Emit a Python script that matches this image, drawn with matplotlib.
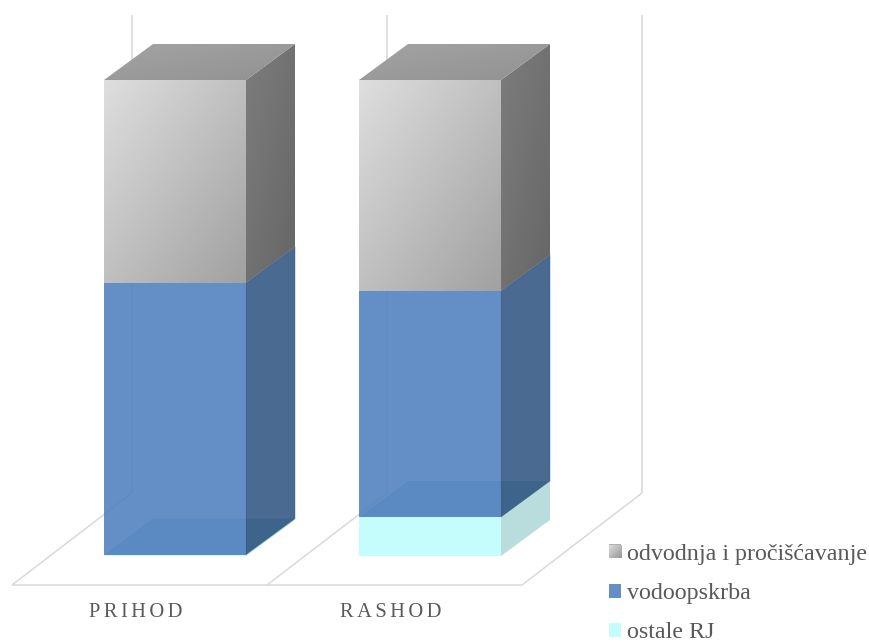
import numpy as np
import matplotlib
matplotlib.use("Agg")
import matplotlib.pyplot as plt
from matplotlib.patches import Polygon, Patch

# ---- data (percent shares) ----
categories = ["PRIHOD", "RASHOD"]
ostale_rj = [0.3, 8.2]
vodoopskrba = [57.1, 47.5]
odvodnja = [42.6, 44.3]
series_labels = ["ostale RJ", "vodoopskrba", "odvodnja i pročišćavanje"]

# ---- layout, in pixels of the 869x644 figure ----
W, H = 869, 644
AX_L, AX_R, AX_T, AX_B = 12, 642, 15, 585
CAT0_PX, CAT_STEP_PX = 139.5, 255.0
BASE_PX, PCT_PX = 556.0, 4.76
BAR_DX, BAR_DY = 49 / CAT_STEP_PX, 36 / PCT_PX          # bar depth
BAR_OFF = 35.5 / CAT_STEP_PX                            # bar centre from category
BAR_HW = 71 / CAT_STEP_PX                               # half width
FLOOR_DX, FLOOR_DY = 120 / CAT_STEP_PX, 92 / PCT_PX     # floor depth
FLOOR_Y = (BASE_PX - AX_B) / PCT_PX
TOP_Y = (BASE_PX - AX_T) / PCT_PX
GRID = "#D9D9D9"
TXT = "#595959"
SERIF = "Liberation Serif"

fig = plt.figure(figsize=(W / 100, H / 100), dpi=100, facecolor="white")
ax = fig.add_axes([AX_L / W, 1 - AX_B / H, (AX_R - AX_L) / W, (AX_B - AX_T) / H])
xlim = ((AX_L - CAT0_PX) / CAT_STEP_PX, (AX_R - CAT0_PX) / CAT_STEP_PX)
ylim = (FLOOR_Y, TOP_Y)
for s in ax.spines.values():
    s.set_visible(False)
ax.set_yticks([])
ax.set_xticks(range(len(categories)))
hair = "\u200a\u200a"
ax.set_xticklabels([hair.join(c) + hair + hair for c in categories], family=SERIF, fontsize=14.7, color=TXT)
ax.tick_params(axis="x", length=0, pad=13)

# floor and walls
n = len(categories)
edges = [i - 0.5 for i in range(n + 1)]
gl = dict(color=GRID, lw=1.1, zorder=1, clip_on=False, solid_capstyle="butt")
ax.plot([edges[0], edges[-1]], [FLOOR_Y, FLOOR_Y], **gl)
for e in edges:
    ax.plot([e, e + FLOOR_DX], [FLOOR_Y, FLOOR_Y + FLOOR_DY], **gl)
    ax.plot([e + FLOOR_DX, e + FLOOR_DX], [FLOOR_Y + FLOOR_DY, TOP_Y], **gl)


def gradient(poly, c0, c1, z):
    """Diagonal grey gradient clipped to a polygon."""
    xs, ys = poly[:, 0], poly[:, 1]
    u, v = np.meshgrid(np.linspace(0, 1, 80), np.linspace(0, 1, 80))
    g = c0 + (c1 - c0) * (u + v) / 2
    im = ax.imshow(g, extent=(xs.min(), xs.max(), ys.min(), ys.max()), origin="upper",
                   cmap="gray", vmin=0, vmax=1, aspect="auto", zorder=z, interpolation="bilinear")
    clip = Polygon(poly, transform=ax.transData, fc="none", ec="none")
    ax.add_patch(clip)
    im.set_clip_path(clip)


def faces(x0, x1, y0, y1):
    front = np.array([[x0, y0], [x1, y0], [x1, y1], [x0, y1]])
    side = np.array([[x1, y0], [x1 + BAR_DX, y0 + BAR_DY], [x1 + BAR_DX, y1 + BAR_DY], [x1, y1]])
    top = np.array([[x0, y1], [x1, y1], [x1 + BAR_DX, y1 + BAR_DY], [x0 + BAR_DX, y1 + BAR_DY]])
    bottom = np.array([[x0, y0], [x1, y0], [x1 + BAR_DX, y0 + BAR_DY], [x0 + BAR_DX, y0 + BAR_DY]])
    return front, side, top, bottom


for i in range(n):
    x0, x1 = i + BAR_OFF - BAR_HW, i + BAR_OFF + BAR_HW
    b1 = ostale_rj[i]
    b2 = b1 + vodoopskrba[i]
    b3 = b2 + odvodnja[i]
    # ostale RJ
    f, s, t, b = faces(x0, x1, 0, b1)
    ax.add_patch(Polygon(s, fc="#B9DDDD", ec="none", zorder=3))
    ax.add_patch(Polygon(f, fc="#C5FDFD", ec="none", zorder=3))
    # vodoopskrba (slightly see-through)
    f, s, t, b = faces(x0, x1, b1, b2)
    ax.add_patch(Polygon(b, fc="#AFD8D8", ec="none", zorder=4))
    ax.add_patch(Polygon(s, fc="#2A507F", ec="#2A507F", lw=0.3, alpha=0.85, zorder=5))
    ax.add_patch(Polygon(f, fc="#4F80BE", ec="none", alpha=0.88, zorder=5))
    # odvodnja i pročišćavanje (grey gradients)
    f, s, t, b = faces(x0, x1, b2, b3)
    gradient(f, 0.87, 0.63, 6)
    gradient(s, 0.49, 0.40, 6)
    gradient(t, 0.64, 0.57, 6)

ax.set_xlim(*xlim)
ax.set_ylim(*ylim)

# legend
handles = [Patch(fc="#B0B0B0"), Patch(fc="#648FC6"), Patch(fc="#C5FDFD")]
labels = [series_labels[2], series_labels[1], series_labels[0]]
leg = fig.legend(handles, labels, loc="lower left", bbox_to_anchor=(607.8 / W, 1 - 644.5 / H),
                 frameon=False, prop=dict(family=SERIF, size=17.25), labelcolor=TXT,
                 handlelength=0.52, handleheight=0.52, handletextpad=0.23,
                 labelspacing=0.76, borderpad=0.05, borderaxespad=0)
u, v = np.meshgrid(np.linspace(0, 1, 13), np.linspace(0, 1, 13))
sq = 0.85 + (0.6 - 0.85) * (u + v) / 2
fig.figimage(sq, xo=609, yo=H - 558, origin="upper", cmap="gray", vmin=0, vmax=1, zorder=10)

fig.savefig("out.png", dpi=100)
